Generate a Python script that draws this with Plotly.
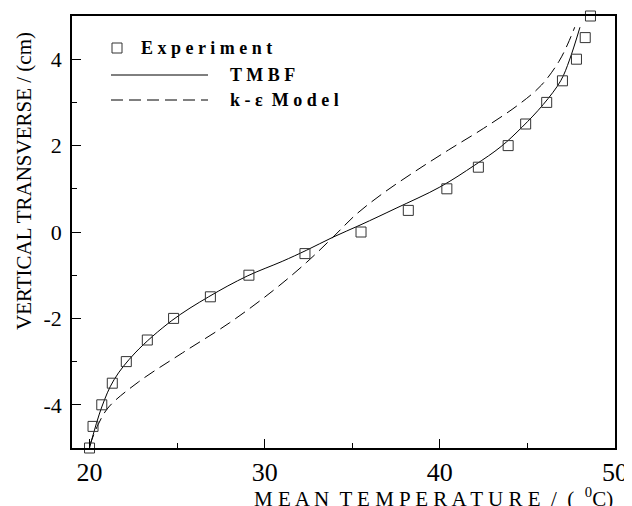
import plotly.graph_objects as go

# experiment (open squares)
exp_x = [20.0, 20.2, 20.7, 21.3, 22.1, 23.3, 24.8, 26.9, 29.1, 32.3, 35.5,
         38.2, 40.4, 42.2, 43.9, 44.9, 46.1, 47.0, 47.8, 48.3, 48.6]
exp_y = [-5.0, -4.5, -4.0, -3.5, -3.0, -2.5, -2.0, -1.5, -1.0, -0.5, 0.0,
         0.5, 1.0, 1.5, 2.0, 2.5, 3.0, 3.5, 4.0, 4.5, 5.0]

# TMBF (solid)
tmbf_x = [20.0, 20.7, 21.4, 22.6, 24.7, 26.8, 29.0, 31.0, 32.4, 33.9, 35.5,
          37.5, 40.0, 42.0, 43.5, 44.7, 45.9, 46.9, 47.4, 48.0]
tmbf_y = [-5.0, -4.05, -3.42, -2.8, -2.05, -1.5, -1.02, -0.68, -0.42, -0.12, 0.17,
          0.55, 1.04, 1.55, 1.98, 2.43, 2.95, 3.5, 3.98, 4.74]

# k-epsilon model (dashed)
ke_x = [20.0, 20.5, 21.1, 22.8, 25.3, 28.0, 30.5, 32.4, 33.9, 35.2, 36.7,
        38.5, 40.5, 42.5, 44.5, 45.8, 46.8, 47.3, 47.7]
ke_y = [-4.95, -4.45, -4.05, -3.47, -2.8, -2.1, -1.35, -0.7, -0.12, 0.4, 0.88,
        1.38, 1.9, 2.4, 2.95, 3.4, 3.95, 4.35, 4.74]

y_ticks = [-4, -2, 0, 2, 4]
y_labels = ["-4", "-2", "0", "2", "4"]
x_ticks = [20, 30, 40, 50]
x_labels = ["20", "30", "40", "50"]

font = "Liberation Serif, Times New Roman, serif"

fig = go.Figure()
fig.add_trace(go.Scatter(x=tmbf_x, y=tmbf_y, mode="lines", line_shape="spline",
                         line=dict(color="black", width=1)))
fig.add_trace(go.Scatter(x=ke_x, y=ke_y, mode="lines", line_shape="spline",
                         line=dict(color="black", width=1, dash="12px,6px")))
fig.add_trace(go.Scatter(x=exp_x, y=exp_y, mode="markers", cliponaxis=False,
                         marker=dict(symbol="square-open", size=10,
                                     color="#333", line=dict(width=1))))

# plot box in page pixels: left 72, right 615, top 16, bottom 448
def px(x):
    return (x - 72) / 543

def py(y):
    return (448 - y) / 432

# legend drawn by hand (text is letter-spaced in the original)
legend_font = dict(family=font, size=18, color="black", weight="bold")
fig.add_shape(type="rect", xref="paper", yref="paper",
              x0=px(112), x1=px(122), y0=py(53), y1=py(43),
              line=dict(color="#333", width=1))
fig.add_annotation(xref="paper", yref="paper", x=px(139), y=py(48),
                   xanchor="left", yanchor="middle", showarrow=False,
                   text="E x p e r i m e n t", font=legend_font)
fig.add_shape(type="line", xref="paper", yref="paper",
              x0=px(111), x1=px(208), y0=py(75), y1=py(75),
              line=dict(color="black", width=1))
fig.add_annotation(xref="paper", yref="paper", x=px(228), y=py(75),
                   xanchor="left", yanchor="middle", showarrow=False,
                   text="T M B F", font=legend_font)
fig.add_shape(type="line", xref="paper", yref="paper",
              x0=px(111), x1=px(208), y0=py(100), y1=py(100),
              line=dict(color="black", width=1, dash="12px,6px"))
fig.add_annotation(xref="paper", yref="paper", x=px(228), y=py(100),
                   xanchor="left", yanchor="middle", showarrow=False,
                   text="k - ε  M o d e l", font=legend_font)

# axis titles (the x title runs off the bottom edge, as in the original)
fig.add_annotation(xref="paper", yref="paper", x=px(433), y=py(482),
                   xanchor="center", yanchor="top", showarrow=False,
                   text="M E A N  T E M P E R A T U R E  /  (  <sup>0</sup>C)",
                   font=dict(family=font, size=21, color="black"))
fig.add_annotation(xref="paper", yref="paper", x=px(24), y=py(181),
                   xanchor="center", yanchor="middle", showarrow=False, textangle=-90,
                   text="VERTICAL TRANSVERSE / (cm)",
                   font=dict(family=font, size=21, color="black"))

axis_common = dict(showline=True, linecolor="black", linewidth=1.5, mirror=True,
                   ticks="inside", ticklen=9, tickcolor="black", tickwidth=1,
                   showgrid=False, zeroline=False, automargin=False)

fig.update_xaxes(range=[19, 50], tickvals=x_ticks, ticktext=x_labels,
                 tickfont=dict(family=font, size=26, color="black"),
                 minor=dict(ticks="inside", ticklen=5, tickvals=[25, 35, 45],
                            tickcolor="black"),
                 **axis_common)
fig.update_yaxes(range=[-5, 5], tickvals=y_ticks, ticktext=y_labels,
                 ticklabelstandoff=4,
                 tickfont=dict(family=font, size=22, color="black"),
                 minor=dict(ticks="inside", ticklen=5, tickvals=[-3, -1, 1, 3],
                            tickcolor="black"),
                 **axis_common)

# the page puts the figure 8px in from the top-left, so size and margins allow for it
fig.update_layout(width=624, height=498, showlegend=False,
                  margin=dict(l=64, r=17, t=8, b=58),
                  plot_bgcolor="white", paper_bgcolor="white")

fig.write_html("out.html")
